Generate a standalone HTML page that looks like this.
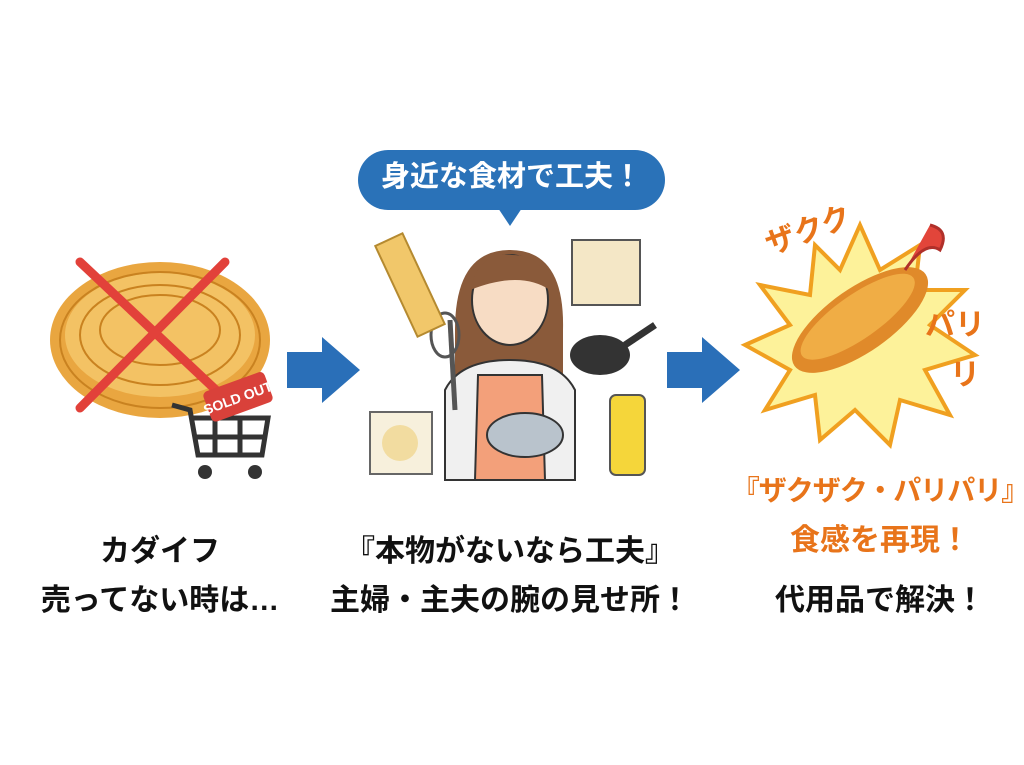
<!DOCTYPE html>
<html><head><meta charset="utf-8"><style>
html,body{margin:0;padding:0;background:#fff;}
body{width:1024px;height:765px;position:relative;overflow:hidden;font-family:"Liberation Sans","Noto Sans CJK JP",sans-serif;}
.t{position:absolute;text-align:center;font-weight:bold;font-size:30px;line-height:1;color:#111;white-space:nowrap;}
.o{color:#e8741a;}
</style></head><body>
<svg width="1024" height="765" style="position:absolute;left:0;top:0">
<ellipse cx="160" cy="340" rx="110" ry="78" fill="#e9a640"/>
<ellipse cx="160" cy="335" rx="95" ry="62" fill="#f3c264"/>
<g stroke="#c98220" stroke-width="2" fill="none">
<ellipse cx="160" cy="335" rx="80" ry="50"/><ellipse cx="160" cy="340" rx="100" ry="68"/><ellipse cx="160" cy="330" rx="60" ry="35"/></g>
<g stroke="#e2413a" stroke-width="9" stroke-linecap="round"><line x1="80" y1="262" x2="235" y2="408"/><line x1="225" y1="262" x2="80" y2="408"/></g>
<g stroke="#333" stroke-width="5" fill="none"><path d="M172 405 L190 410 L198 455 L262 455 L268 418 L192 418"/><line x1="196" y1="437" x2="265" y2="437"/><line x1="215" y1="418" x2="215" y2="455"/><line x1="240" y1="418" x2="240" y2="455"/></g>
<circle cx="205" cy="472" r="7" fill="#333"/><circle cx="255" cy="472" r="7" fill="#333"/>
<g transform="rotate(-20 240 395)"><rect x="205" y="380" width="65" height="32" rx="5" fill="#d9413a"/><text x="237" y="402" font-size="14" font-weight="bold" fill="#fff" text-anchor="middle" font-family="Liberation Sans">SOLD OUT</text></g>
<polygon points="287,352 322,352 322,337 360,370 322,403 322,388 287,388" fill="#2a6fb8"/>
<polygon points="667,352 702,352 702,337 740,370 702,403 702,388 667,388" fill="#2a6fb8"/>
<rect x="358" y="150" width="307" height="60" rx="30" fill="#2a72b8"/>
<polygon points="498,208 522,208 510,226" fill="#2a72b8"/>
<path d="M455 330 Q455 250 510 250 Q565 250 563 330 L563 380 L455 380 Z" fill="#8a5a3a"/>
<ellipse cx="510" cy="300" rx="38" ry="45" fill="#f7dcc4" stroke="#333" stroke-width="2"/>
<path d="M470 290 Q480 250 512 255 Q545 255 550 290 Q520 270 470 290Z" fill="#8a5a3a"/>
<path d="M445 480 L445 390 Q460 360 510 360 Q560 360 575 390 L575 480 Z" fill="#f0f0f0" stroke="#333" stroke-width="2"/>
<path d="M475 480 L478 375 L542 375 L545 480Z" fill="#f3a07a" stroke="#333" stroke-width="2"/>
<ellipse cx="525" cy="435" rx="38" ry="22" fill="#b9c3cc" stroke="#333" stroke-width="2"/>
<line x1="450" y1="320" x2="455" y2="410" stroke="#555" stroke-width="5"/>
<ellipse cx="445" cy="335" rx="14" ry="22" fill="none" stroke="#555" stroke-width="3"/>
<g transform="rotate(-25 410 285)"><rect x="395" y="235" width="30" height="100" fill="#f1c76a" stroke="#b58a30" stroke-width="2"/></g>
<rect x="572" y="240" width="68" height="65" fill="#f4e7c6" stroke="#555" stroke-width="2"/>
<ellipse cx="600" cy="355" rx="30" ry="20" fill="#333"/><line x1="625" y1="345" x2="655" y2="325" stroke="#333" stroke-width="7"/>
<rect x="370" y="412" width="62" height="62" fill="#f7f0dc" stroke="#666" stroke-width="2"/><circle cx="400" cy="443" r="18" fill="#f2dca0"/>
<rect x="610" y="395" width="35" height="80" rx="6" fill="#f5d63a" stroke="#555" stroke-width="2"/>
<polygon points="860,225 880,270 920,245 915,290 965,290 930,325 975,355 925,370 950,415 900,400 890,445 855,410 820,440 815,395 765,410 790,370 745,345 790,325 760,285 810,295 815,245 840,270" fill="#fdf29a" stroke="#f0a020" stroke-width="4"/>
<g transform="rotate(-35 860 320)"><ellipse cx="860" cy="320" rx="80" ry="32" fill="#e08a2a"/><ellipse cx="860" cy="316" rx="68" ry="22" fill="#f0ad45"/></g>
<path d="M905 270 Q925 240 940 250 Q950 230 930 225" fill="#e2453a" stroke="#b0302a" stroke-width="3"/>
<text x="770" y="255" font-size="30" font-weight="bold" fill="#e8741a" transform="rotate(-20 770 255)" font-family="Noto Sans CJK JP">ザクク</text>
<text x="925" y="335" font-size="30" font-weight="bold" fill="#e8741a" font-family="Noto Sans CJK JP">パリ</text>
<text x="950" y="385" font-size="30" font-weight="bold" fill="#e8741a" font-family="Noto Sans CJK JP">リ</text>
</svg>
<div class="t" style="left:358px;top:163px;width:307px;color:#fff;font-size:29px;">身近な食材で工夫！</div>
<div class="t" style="left:40px;top:537px;width:240px;">カダイフ</div>
<div class="t" style="left:20px;top:586px;width:280px;">売ってない時は…</div>
<div class="t" style="left:330px;top:537px;width:360px;">『本物がないなら工夫』</div>
<div class="t" style="left:330px;top:586px;width:360px;">主婦・主夫の腕の見せ所！</div>
<div class="t o" style="left:720px;top:477px;width:320px;font-size:28px;letter-spacing:-1px;">『ザクザク・パリパリ』</div>
<div class="t o" style="left:720px;top:526px;width:320px;">食感を再現！</div>
<div class="t" style="left:720px;top:586px;width:320px;">代用品で解決！</div>
</body></html>
